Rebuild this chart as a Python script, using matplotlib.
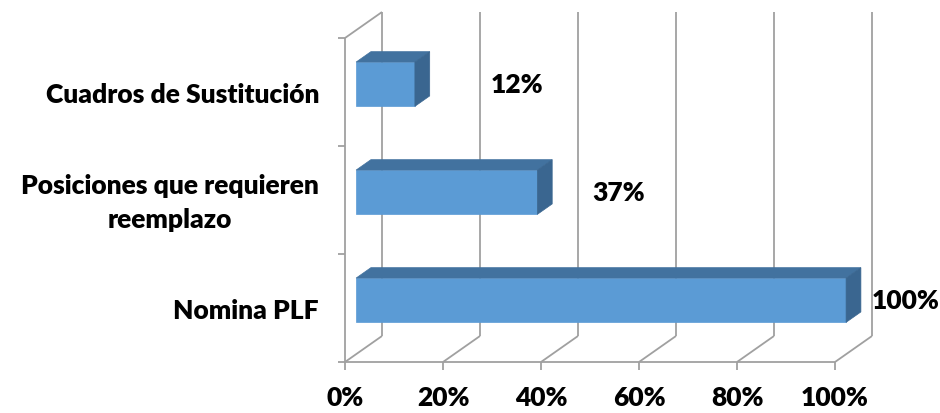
import numpy as np
import matplotlib
matplotlib.use("Agg")
import matplotlib.pyplot as plt
from matplotlib.patches import Polygon
from matplotlib.lines import Line2D

# ---- data ----
categories = ["Nomina PLF", "Posiciones que requieren\nreemplazo", "Cuadros de Sustitución"]
values = [100, 37, 12]
value_labels = ["100%", "37%", "12%"]
x_ticks = [0, 20, 40, 60, 80, 100]
x_tick_labels = ["0%", "20%", "40%", "60%", "80%", "100%"]

# ---- style ----
FONT = "Lato"
WEIGHT = "heavy"
FS_CAT = 19
FS_VAL = 19
FS_TICK = 19
GRID = "#A0A0A0"
FRONT = "#5B9BD5"
TOP = "#42729F"
SIDE = "#3A6690"
DEPTH_PX = np.array([37.0, 26.0])   # depth vector of the 3D box, in pixels
BAR_D0, BAR_D1 = 0.3, 0.7           # bar depth span (fraction of box depth)
BAR_H = 0.41                        # bar thickness in category units
LABEL_DX = [26, 55, 76]             # value-label gap (px) after bar end

W, H = 940, 414
fig = plt.figure(figsize=(W / 100, H / 100), dpi=100)
ax = fig.add_axes([345 / W, (H - 363) / H, 490 / W, 324 / H])
ax.set_xlim(0, 100)
ax.set_ylim(-0.5, len(categories) - 0.5)
ax.axis("off")
fig.canvas.draw()

inv = fig.transFigure.inverted()


def P(v, c, d=0.0):
    disp = ax.transData.transform((v, c)) + d * DEPTH_PX
    return inv.transform(disp)


def line(pts, **kw):
    pts = np.array(pts)
    fig.add_artist(Line2D(pts[:, 0], pts[:, 1], transform=fig.transFigure,
                          color=GRID, lw=1.3, solid_capstyle="butt", **kw))


ymin, ymax = -0.5, len(categories) - 0.5
# back wall gridlines and floor lines
for t in x_ticks:
    line([P(t, ymin, 1), P(t, ymax, 1)], zorder=1)
    line([P(t, ymin, 0), P(t, ymin, 1)], zorder=1)
    p = P(t, ymin, 0)
    line([p, p - np.array([0, 8 / H])], zorder=1)
# floor front edge
line([P(0, ymin, 0), P(100, ymin, 0)], zorder=1)
# left wall
line([P(0, ymin, 0), P(0, ymax, 0)], zorder=1)
line([P(0, ymax, 0), P(0, ymax, 1)], zorder=1)
for c in np.arange(ymin, ymax + 0.01, 1.0):
    p = P(0, c, 0)
    line([p - np.array([7 / W, 0]), p], zorder=1)

# bars
for i, v in enumerate(values):
    y0, y1 = i - BAR_H / 2, i + BAR_H / 2
    front = [P(0, y0, BAR_D0), P(v, y0, BAR_D0), P(v, y1, BAR_D0), P(0, y1, BAR_D0)]
    top = [P(0, y1, BAR_D0), P(v, y1, BAR_D0), P(v, y1, BAR_D1), P(0, y1, BAR_D1)]
    side = [P(v, y0, BAR_D0), P(v, y0, BAR_D1), P(v, y1, BAR_D1), P(v, y1, BAR_D0)]
    for poly, col in ((front, FRONT), (top, TOP), (side, SIDE)):
        fig.add_artist(Polygon(poly, closed=True, transform=fig.transFigure,
                               facecolor=col, edgecolor=col, lw=0.5, zorder=3))
    pe = P(v, i, BAR_D0)
    ax.annotate(value_labels[i], xy=(pe[0], pe[1]), xycoords="figure fraction",
                xytext=(LABEL_DX[i], 0), textcoords="offset pixels",
                ha="left", va="center", fontsize=FS_VAL, fontweight=WEIGHT,
                family=FONT, color="black", annotation_clip=False, zorder=5)

# category labels
for i, name in enumerate(categories):
    ax.annotate(name, xy=(0, i), xycoords="data", xytext=(-26, -2),
                textcoords="offset pixels", ha="right", va="center",
                multialignment="center", fontsize=FS_CAT, fontweight=WEIGHT,
                family=FONT, color="black", annotation_clip=False,
                linespacing=1.55)

# x tick labels
for t, lab in zip(x_ticks, x_tick_labels):
    ax.annotate(lab, xy=(t, ymin), xycoords="data", xytext=(0, -35),
                textcoords="offset pixels", ha="center", va="center",
                fontsize=FS_TICK, fontweight=WEIGHT, family=FONT, color="black",
                annotation_clip=False)

fig.savefig("out.png", dpi=100)
